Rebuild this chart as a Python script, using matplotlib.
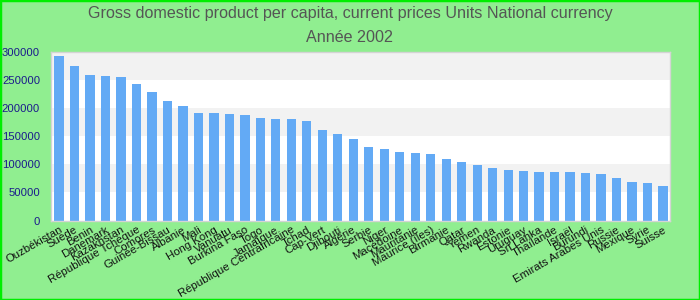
import matplotlib
matplotlib.use("Agg")
import matplotlib.pyplot as plt
from matplotlib.patches import Rectangle

plt.rcParams['font.family'] = ['Liberation Sans', 'DejaVu Sans']

countries = ["Ouzbékistan", "Suède", "Benin", "Danemark", "Kazakhstan",
             "République Tchèque", "Comores", "Guinée-Bissau", "Albanie", "Mali",
             "Hong Kong", "Vanuatu", "Burkina Faso", "Togo", "Jamaïque",
             "République Centrafricaine", "Tchad", "Cap-Vert", "Djibouti", "Algérie",
             "Serbie", "Niger", "Macédoine", "Mauritanie", "Maurice (îles)",
             "Birmanie", "Qatar", "Yemen", "Rwanda", "Estonie",
             "Uruguay", "Sri Lanka", "Thaïlande", "Israël", "Burundi",
             "Emirats Arabes Unis", "Russie", "Mexique", "Syrie", "Suisse"]
values = [292300, 274600, 258600, 256900, 255100,
          242700, 228400, 212500, 203600, 191200,
          191200, 189400, 187600, 182200, 180400,
          180400, 176900, 160900, 153800, 144900,
          130700, 127200, 121900, 120100, 118300,
          109400, 104100, 98800, 93400, 89900,
          88100, 86300, 86300, 86300, 84500,
          82700, 75600, 68500, 66700, 61400]
y_ticks = [0, 50000, 100000, 150000, 200000, 250000, 300000]
title_line1 = "Gross domestic product per capita, current prices Units National currency"
title_line2 = "Année 2002"

fig = plt.figure(figsize=(7, 3), dpi=100, facecolor="#90EE90")
fig.patches.append(Rectangle((0, 0), 1, 1, transform=fig.transFigure,
                             fill=False, edgecolor="#00ee00", linewidth=2.5))

ax = fig.add_axes([50.5/700, 79.4/300, 619.5/700, 169/300])
ax.set_facecolor("white")
for i in range(len(y_ticks) - 1):
    if i % 2 == 1:
        ax.axhspan(y_ticks[i], y_ticks[i+1], color="#f2f2f2", zorder=0, linewidth=0)

x = list(range(len(countries)))
ax.bar(x, values, width=0.6, color="#63aaf5", zorder=2)
ax.set_xlim(-0.55, len(countries) - 0.55)
ax.set_ylim(0, 300000)
ax.set_yticks(y_ticks)
ax.set_yticklabels([str(v) for v in y_ticks], color="#1a1a8c", fontsize=8.1)
ax.set_xticks(x)
ax.set_xticklabels(countries, rotation=30, ha="right", rotation_mode="anchor",
                   fontsize=8.2, color="#111111")
ax.tick_params(axis="both", length=0)
ax.tick_params(axis="y", pad=7.5)
ax.tick_params(axis="x", pad=3)
for s in ax.spines.values():
    s.set_color("#d4d4d4")
    s.set_linewidth(1)

fig.text(0.5, 1 - 18/300, title_line1, ha="center", va="baseline",
         fontsize=11.6, color="#555555")
fig.text(0.5, 1 - 42/300, title_line2, ha="center", va="baseline",
         fontsize=11.6, color="#555555")

fig.savefig("out.png", dpi=100, facecolor=fig.get_facecolor())
